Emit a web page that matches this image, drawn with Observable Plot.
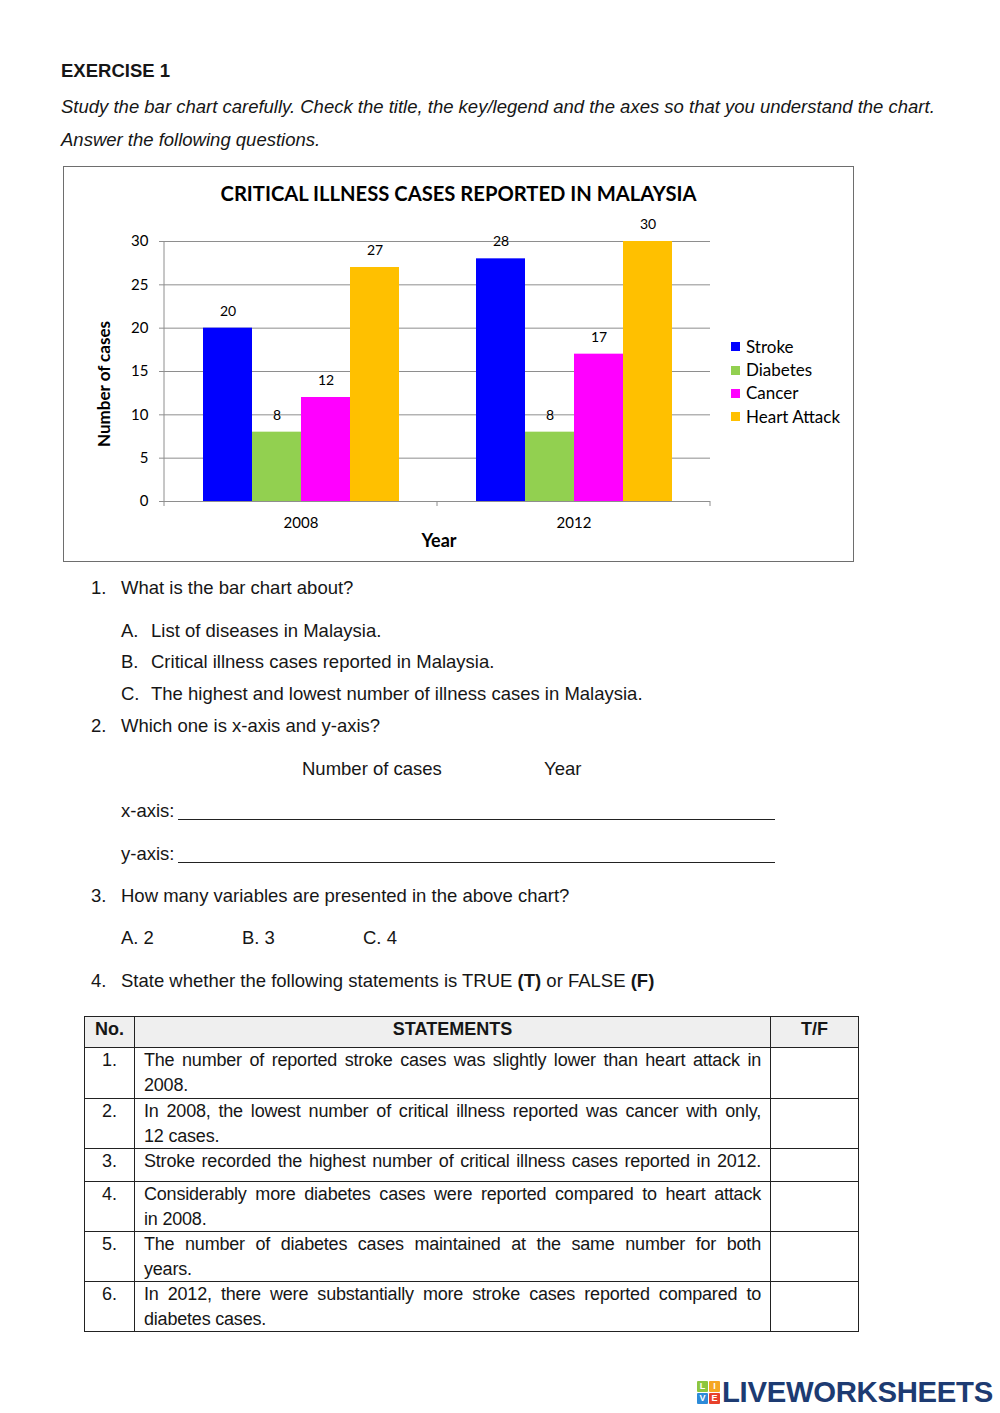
<!DOCTYPE html>
<html><head><meta charset="utf-8">
<script src="https://cdn.jsdelivr.net/npm/d3@7"></script>
<script src="https://cdn.jsdelivr.net/npm/@observablehq/plot@0.6"></script>
<style>
html,body{margin:0;padding:0;background:#fff;}
#page{position:relative;width:1000px;height:1413px;overflow:hidden;font-family:"Liberation Sans",Arial,sans-serif;font-size:18.5px;color:#161616;}
.t{position:absolute;line-height:20px;white-space:nowrap;}
.b{font-weight:bold;}
.i{font-style:italic;}
.uline{position:absolute;border-top:1px solid #222;height:0;}
#box{position:absolute;left:63px;top:166px;width:789px;height:394px;border:1px solid #6e6e6e;}
#ctitle{position:absolute;left:0;top:14px;width:100%;text-align:center;font-family:Lato,"Open Sans",sans-serif;font-weight:bold;font-size:20.2px;line-height:24px;color:#000;}
#chart{position:absolute;left:0;top:43px;}
.ax{position:absolute;font-family:Lato,"Open Sans",sans-serif;font-weight:bold;color:#000;white-space:nowrap;line-height:20px;}
#legend{position:absolute;left:731px;top:335px;font-family:Lato,"Open Sans",sans-serif;font-size:17px;color:#000;}
#legend .it{height:23.4px;line-height:22px;display:flex;align-items:center;}
#legend .sw{width:9px;height:9px;margin-right:6px;}
table.st{position:absolute;left:84px;top:1016px;border-collapse:collapse;table-layout:fixed;width:774px;}
table.st td{border:1px solid #222;vertical-align:top;padding:0 9px;line-height:24.5px;font-size:18px;overflow:hidden;}
table.st tr.h td{background:#efefef;font-weight:bold;text-align:center;}
table.st td.n{text-align:center;padding:0 4px;}
table.st td.s{text-align:left;letter-spacing:-0.2px;}
table.st td.s .j{text-align:justify;text-align-last:justify;}
#logo{position:absolute;left:697px;top:1380px;height:26px;}
#logo .sq{position:absolute;width:11px;height:11px;color:#fff;font:bold 9px/11px "Liberation Sans",Arial,sans-serif;text-align:center;border-radius:1px;}
#logo .word{position:absolute;left:25px;top:-4px;font-family:"Liberation Sans",Arial,sans-serif;font-weight:bold;font-size:29.3px;line-height:32px;color:#1d3b72;letter-spacing:-0.3px;white-space:nowrap;}
</style></head><body>
<div id="page">
  <div class="t b" style="left:61px;top:61px;">EXERCISE 1</div>
  <div class="t i" style="left:61px;top:97px;">Study the bar chart carefully. Check the title, the key/legend and the axes so that you understand the chart.</div>
  <div class="t i" style="left:61px;top:130px;">Answer the following questions.</div>

  <div id="box">
    <div id="ctitle">CRITICAL ILLNESS CASES REPORTED IN MALAYSIA</div>
    <div id="chart"></div>
  </div>
  <div class="ax" style="left:104px;top:384px;font-size:17px;transform:translate(-50%,-50%) rotate(-90deg);">Number of cases</div>
  <div class="ax" style="left:439px;top:540px;font-size:18px;transform:translate(-50%,-50%);">Year</div>
  <div id="legend"></div>

  <div class="t" style="left:91px;top:578px;">1.</div>
  <div class="t" style="left:121px;top:578px;">What is the bar chart about?</div>
  <div class="t" style="left:121px;top:621px;">A.</div>
  <div class="t" style="left:151px;top:621px;">List of diseases in Malaysia.</div>
  <div class="t" style="left:121px;top:652px;">B.</div>
  <div class="t" style="left:151px;top:652px;">Critical illness cases reported in Malaysia.</div>
  <div class="t" style="left:121px;top:684px;">C.</div>
  <div class="t" style="left:151px;top:684px;">The highest and lowest number of illness cases in Malaysia.</div>

  <div class="t" style="left:91px;top:716px;">2.</div>
  <div class="t" style="left:121px;top:716px;">Which one is x-axis and y-axis?</div>
  <div class="t" style="left:302px;top:759px;">Number of cases</div>
  <div class="t" style="left:544px;top:759px;">Year</div>
  <div class="t" style="left:121px;top:801px;">x-axis:</div>
  <div class="uline" style="left:178px;top:819px;width:597px;"></div>
  <div class="t" style="left:121px;top:844px;">y-axis:</div>
  <div class="uline" style="left:178px;top:862px;width:597px;"></div>

  <div class="t" style="left:91px;top:886px;">3.</div>
  <div class="t" style="left:121px;top:886px;">How many variables are presented in the above chart?</div>
  <div class="t" style="left:121px;top:928px;">A. 2</div>
  <div class="t" style="left:242px;top:928px;">B. 3</div>
  <div class="t" style="left:363px;top:928px;">C. 4</div>

  <div class="t" style="left:91px;top:971px;">4.</div>
  <div class="t" style="left:121px;top:971px;">State whether the following statements is TRUE <b>(T)</b> or FALSE <b>(F)</b></div>

  <table class="st">
    <colgroup><col style="width:50px"><col style="width:636px"><col style="width:88px"></colgroup>
    <tr class="h" style="height:31px"><td class="n">No.</td><td>STATEMENTS</td><td>T/F</td></tr>
    <tr style="height:51px"><td class="n">1.</td><td class="s"><div class="j">The number of reported stroke cases was slightly lower than heart attack in</div><div>2008.</div></td><td></td></tr>
    <tr style="height:50px"><td class="n">2.</td><td class="s"><div class="j">In 2008, the lowest number of critical illness reported was cancer with only,</div><div>12 cases.</div></td><td></td></tr>
    <tr style="height:33px"><td class="n">3.</td><td class="s"><div class="j">Stroke recorded the highest number of critical illness cases reported in 2012.</div></td><td></td></tr>
    <tr style="height:49px"><td class="n">4.</td><td class="s"><div class="j">Considerably more diabetes cases were reported compared to heart attack</div><div>in 2008.</div></td><td></td></tr>
    <tr style="height:50px"><td class="n">5.</td><td class="s"><div class="j">The number of diabetes cases maintained at the same number for both</div><div>years.</div></td><td></td></tr>
    <tr style="height:50px"><td class="n">6.</td><td class="s"><div class="j">In 2012, there were substantially more stroke cases reported compared to</div><div>diabetes cases.</div></td><td></td></tr>
  </table>

  <div id="logo">
    <div class="sq" style="left:0;top:1px;background:#8cc63f;">L</div>
    <div class="sq" style="left:12px;top:1px;background:#f5a623;">I</div>
    <div class="sq" style="left:0;top:13px;background:#2d8bd8;">V</div>
    <div class="sq" style="left:12px;top:13px;background:#e8412c;">E</div>
    <div class="word">LIVEWORKSHEETS</div>
  </div>
</div>
<script>
const years = ["2008", "2012"];
const series = ["Stroke", "Diabetes", "Cancer", "Heart Attack"];
const seriesColors = ["#0000ff", "#92d050", "#ff00ff", "#ffc000"];
const cases2008 = [20, 8, 12, 27];
const cases2012 = [28, 8, 17, 30];
const yTicks = [0, 5, 10, 15, 20, 25, 30];

const byYear = [cases2008, cases2012];
const data = years.flatMap((yr, i) => series.map((s, j) => ({year: yr, series: s, value: byYear[i][j]})));

const gray = "#8e8e8e";
const chart = Plot.plot({
  width: 789,
  height: 350,
  marginLeft: 99,
  marginRight: 143,
  marginTop: 31,
  marginBottom: 59,
  style: {fontFamily: "Lato, 'Open Sans', sans-serif", fontSize: "14px", color: "#000", background: "transparent"},
  fx: {domain: years, padding: 0, label: null},
  x: {domain: series, paddingInner: 0, paddingOuter: 0.75, axis: null},
  y: {domain: [0, 30], label: null},
  color: {domain: series, range: seriesColors},
  marks: [
    Plot.gridY(yTicks.filter(d => d > 0), {stroke: gray, strokeOpacity: 1}),
    Plot.barY(data, {fx: "year", x: "series", y: "value", fill: "series"}),
    Plot.ruleY([0], {stroke: gray}),
    Plot.text(data, {fx: "year", x: "series", y: "value", text: "value", dy: -17, fontSize: 14, fill: "#000"}),
    Plot.axisY({ticks: yTicks, tickSize: 5, tickPadding: 11, stroke: gray, fill: "#000", fontSize: 15, label: null}),
    Plot.axisFx({anchor: "bottom", tickSize: 0, tickPadding: 16, fontSize: 15, label: null, fill: "#000"})
  ]
});
document.getElementById("chart").appendChild(chart);

// axis line and category boundary ticks, placed with the plot's own scales
const fxs = chart.scale("fx"), ys = chart.scale("y");
const bounds = years.map(d => fxs.apply(d)).concat([fxs.apply(years[years.length - 1]) + fxs.bandwidth]);
const svg = d3.select(chart);
const y0 = ys.apply(0), y1 = ys.apply(30);
svg.append("line").attr("x1", bounds[0]).attr("x2", bounds[0]).attr("y1", y0).attr("y2", y1)
  .attr("stroke", gray);
svg.selectAll("line.bt").data(bounds).join("line").attr("class", "bt")
  .attr("x1", d => d).attr("x2", d => d).attr("y1", y0).attr("y2", y0 + 5).attr("stroke", gray);

// legend
const leg = d3.select("#legend");
series.forEach((s, i) => {
  const it = leg.append("div").attr("class", "it");
  it.append("div").attr("class", "sw").style("background", seriesColors[i]);
  it.append("span").text(s);
});
</script>
</body></html>
